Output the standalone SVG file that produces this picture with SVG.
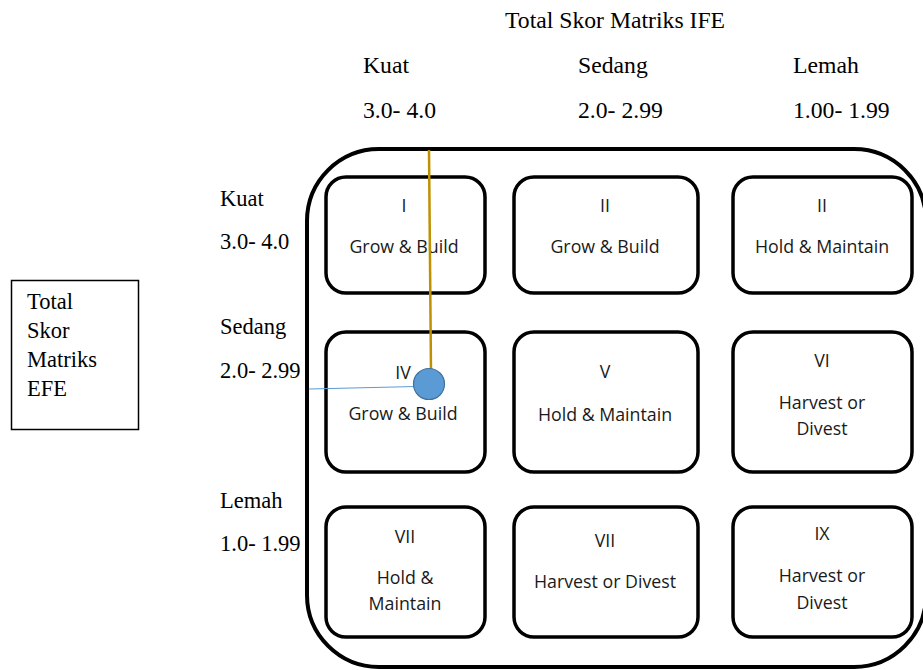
<svg xmlns="http://www.w3.org/2000/svg" width="923" height="670" viewBox="0 0 923 670">
<style>
.serif{font-family:"Liberation Serif","Times New Roman",serif;font-size:22.5px;fill:#000}
.head{font-size:23.7px}
.cell{fill:#fff;stroke:#000;stroke-width:3.5}
.lbl{font-family:"Open Sans","Noto Sans",sans-serif;font-size:17.8px;fill:#1a1a1a;text-anchor:middle}
</style>
<rect width="923" height="670" fill="#fff"/>
<g id="header">
<text class="serif head" x="505" y="28">Total Skor Matriks IFE</text>
<text class="serif head" x="363" y="73">Kuat</text>
<text class="serif head" x="578" y="73">Sedang</text>
<text class="serif head" x="793" y="73">Lemah</text>
<text class="serif head" x="363" y="118">3.0- 4.0</text>
<text class="serif head" x="578" y="118">2.0- 2.99</text>
<text class="serif head" x="793" y="118">1.00- 1.99</text>
</g>
<g id="rowlabels">
<text class="serif" x="220" y="206">Kuat</text>
<text class="serif" x="220" y="249">3.0- 4.0</text>
<text class="serif" x="220" y="334">Sedang</text>
<text class="serif" x="220" y="378">2.0- 2.99</text>
<text class="serif" x="220" y="508">Lemah</text>
<text class="serif" x="220" y="551">1.0- 1.99</text>
</g>
<g id="efe-box">
<rect x="11.5" y="280.5" width="127" height="149" fill="#fff" stroke="#000" stroke-width="1.5"/>
<text class="serif" x="27" y="309">Total</text>
<text class="serif" x="27" y="338">Skor</text>
<text class="serif" x="27" y="367">Matriks</text>
<text class="serif" x="27" y="396">EFE</text>
</g>
<g id="outer">
<rect x="307" y="149" width="619" height="518" rx="72" ry="72" fill="none" stroke="#000" stroke-width="4"/>
</g>
<g id="cell-1"><rect class="cell" x="326" y="177" width="159" height="116" rx="20"/><text class="lbl" x="404" y="212">I</text><text class="lbl" x="404" y="253">Grow &amp; Build</text></g>
<g id="cell-2"><rect class="cell" x="514" y="177" width="184" height="116" rx="20"/><text class="lbl" x="605" y="212">II</text><text class="lbl" x="605" y="253">Grow &amp; Build</text></g>
<g id="cell-3"><rect class="cell" x="733" y="177" width="179" height="116" rx="20"/><text class="lbl" x="822" y="212">II</text><text class="lbl" x="822" y="253">Hold &amp; Maintain</text></g>
<g id="cell-4"><rect class="cell" x="326" y="332" width="159" height="140" rx="20"/><text class="lbl" x="403" y="379">IV</text><text class="lbl" x="403" y="420">Grow &amp; Build</text></g>
<g id="cell-5"><rect class="cell" x="514" y="332" width="184" height="140" rx="20"/><text class="lbl" x="605" y="378">V</text><text class="lbl" x="605" y="421">Hold &amp; Maintain</text></g>
<g id="cell-6"><rect class="cell" x="733" y="332" width="179" height="140" rx="20"/><text class="lbl" x="822" y="367">VI</text><text class="lbl" x="822" y="409">Harvest or</text><text class="lbl" x="822" y="435">Divest</text></g>
<g id="cell-7"><rect class="cell" x="326" y="507" width="159" height="130" rx="20"/><text class="lbl" x="405" y="543">VII</text><text class="lbl" x="405" y="584">Hold &amp;</text><text class="lbl" x="405" y="610">Maintain</text></g>
<g id="cell-8"><rect class="cell" x="514" y="507" width="184" height="130" rx="20"/><text class="lbl" x="605" y="547">VII</text><text class="lbl" x="605" y="588">Harvest or Divest</text></g>
<g id="cell-9"><rect class="cell" x="733" y="507" width="179" height="130" rx="20"/><text class="lbl" x="822" y="540">IX</text><text class="lbl" x="822" y="582">Harvest or</text><text class="lbl" x="822" y="609">Divest</text></g>
<g id="connectors">
<line x1="429" y1="150" x2="431" y2="372" stroke="#BF9000" stroke-width="2.5"/>
<line x1="309" y1="389" x2="416" y2="386.5" stroke="#5B9BD5" stroke-width="1.2"/>
</g>
<g id="position-marker">
<circle cx="429" cy="384" r="15.5" fill="#5B9BD5" stroke="#41719C" stroke-width="1.2"/>
</g>
</svg>
